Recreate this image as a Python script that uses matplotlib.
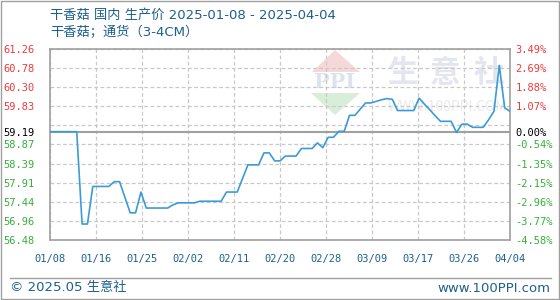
import matplotlib
matplotlib.use("Agg")
import matplotlib.pyplot as plt
import matplotlib.dates as mdates
from matplotlib.patches import Polygon, Rectangle
import numpy as np
import pandas as pd

plt.rcParams["font.family"] = ["Noto Sans CJK SC", "DejaVu Sans"]

# data
dates = ["2025-01-08", "2025-01-13", "2025-01-14", "2025-01-15", "2025-01-16",
         "2025-01-19", "2025-01-20", "2025-01-21", "2025-01-23", "2025-01-24",
         "2025-01-25", "2025-01-26", "2025-01-30", "2025-01-31", "2025-02-01",
         "2025-02-04", "2025-02-05", "2025-02-09", "2025-02-10", "2025-02-12",
         "2025-02-14", "2025-02-16", "2025-02-17", "2025-02-18", "2025-02-19",
         "2025-02-20", "2025-02-21", "2025-02-23", "2025-02-24", "2025-02-26",
         "2025-02-27", "2025-02-28", "2025-03-01", "2025-03-02", "2025-03-03",
         "2025-03-04", "2025-03-05", "2025-03-06", "2025-03-08", "2025-03-09",
         "2025-03-11", "2025-03-12", "2025-03-13", "2025-03-14", "2025-03-17",
         "2025-03-18", "2025-03-19", "2025-03-20", "2025-03-21", "2025-03-22",
         "2025-03-24", "2025-03-25", "2025-03-26", "2025-03-27", "2025-03-28",
         "2025-03-30", "2025-03-31", "2025-04-01", "2025-04-02", "2025-04-03",
         "2025-04-04"]
prices = [59.19, 59.19, 56.88, 56.88, 57.82,
          57.82, 57.94, 57.94, 57.16, 57.16,
          57.68, 57.28, 57.28, 57.36, 57.41,
          57.41, 57.45, 57.45, 57.68, 57.68,
          58.36, 58.36, 58.66, 58.66, 58.46,
          58.46, 58.58, 58.58, 58.77, 58.77,
          58.91, 58.79, 59.05, 59.05, 59.20,
          59.20, 59.60, 59.60, 59.91, 59.91,
          59.99, 60.02, 60.00, 59.72, 59.72,
          60.03, 59.88, 59.74, 59.59, 59.45,
          59.45, 59.17, 59.38, 59.38, 59.30,
          59.30, 59.49, 59.70, 60.85, 59.79,
          59.70]

base_price = 59.19
y_min, y_max = 56.48, 61.26
left_labels = ["56.48", "56.96", "57.44", "57.91", "58.39", "58.87", "",
               "59.83", "60.30", "60.78", "61.26"]
right_labels = ["-4.58%", "-3.77%", "-2.96%", "-2.15%", "-1.35%", "-0.54%", "",
                "1.07%", "1.88%", "2.69%", "3.49%"]
x_labels = ["01/08", "01/16", "01/25", "02/02", "02/11", "02/20", "02/28",
            "03/09", "03/17", "03/26", "04/04"]

title = "干香菇 国内 生产价 2025-01-08 - 2025-04-04"
subtitle = "干香菇；通货（3-4CM）"

blue_text = "#1d5f8e"
red = "#f03a3a"
green = "#36b03a"
W, H = 560, 300
latin_first = ["DejaVu Sans", "Noto Sans CJK SC"]


def fx(px):
    return px / W


def fy(py):
    return 1 - py / H


fig = plt.figure(figsize=(5.6, 3.0), dpi=100)
ax = fig.add_axes([fx(50), fy(240), (510 - 50) / W, (240 - 49) / H])

t = mdates.date2num(pd.to_datetime(dates))
ax.plot(t, prices, color="#3b9bd8", lw=1.2, zorder=5)

x0, x1 = t[0], t[-1]
ax.set_xlim(x0, x1)
ax.set_ylim(y_min, y_max)

yt = np.linspace(y_min, y_max, len(left_labels))
ax.set_yticks(yt)
ax.set_yticklabels(left_labels)
ax.set_yticks([base_price], minor=True)
ax.set_yticklabels(["59.19"], minor=True)
xt = np.linspace(x0, x1, len(x_labels))
ax.set_xticks(xt)
ax.set_xticklabels(x_labels)

ax.grid(True, which="major", color="#c8c8c8", ls=(0, (3, 2)), lw=0.9)
ax.axhline(base_price, color="#a0a0a0", lw=1.5, zorder=3)

for s in ax.spines.values():
    s.set_color("#a0a0a0")
    s.set_linewidth(1.2)

mono = "DejaVu Sans Mono"
ax.tick_params(axis="both", which="both", length=0)
ax.tick_params(axis="y", which="both", pad=11, labelsize=7.5)
ax.tick_params(axis="x", pad=10, labelsize=7.5, labelcolor=blue_text)
for lab in ax.get_xticklabels():
    lab.set_family(mono)
for v, lab in zip(yt, ax.get_yticklabels()):
    lab.set_family(mono)
    lab.set_color(red if v > base_price else green)
for lab in ax.get_yticklabels(minor=True):
    lab.set_family(mono)
    lab.set_color("black")

ax2 = ax.twinx()
ax2.set_ylim(y_min, y_max)
ax2.set_yticks(yt)
ax2.set_yticklabels(right_labels)
ax2.set_yticks([base_price], minor=True)
ax2.set_yticklabels(["0.00%"], minor=True)
ax2.tick_params(axis="y", which="both", length=0, pad=4, labelsize=7.5)
for v, lab in zip(yt, ax2.get_yticklabels()):
    lab.set_family(mono)
    lab.set_color(red if v > base_price else green)
for lab in ax2.get_yticklabels(minor=True):
    lab.set_family(mono)
    lab.set_color("black")
for s in ax2.spines.values():
    s.set_visible(False)

# watermark
tf = fig.transFigure
ax.add_patch(Polygon([(fx(335), fy(50)), (fx(312), fy(72)), (fx(360), fy(72))],
                     closed=True, transform=tf, color="#f6d8d8", lw=0, zorder=1))
ax.add_patch(Polygon([(fx(311), fy(93)), (fx(360), fy(93)), (fx(335), fy(115))],
                     closed=True, transform=tf, color="#d8eed8", lw=0, zorder=1))
ax.text(fx(335), fy(82), "PPI", transform=tf, ha="center", va="center",
        fontsize=15, fontweight="bold", color="#dde3ee", family="DejaVu Serif", zorder=1)
for ch, cx in zip("生意社", [402, 445, 489]):
    ax.text(fx(cx), fy(73), ch, transform=tf, ha="center", va="center",
            fontsize=22, fontweight="bold", color="#e3e6ee", zorder=1)
ax.text(fx(447), fy(107), "WWW.100PPI.COM", transform=tf, ha="center", va="center",
        fontsize=10, color="#eaeaea", zorder=1)

# titles and footer
fig.text(fx(50), fy(15), title, fontsize=9.5, color=blue_text, va="center",
         family=latin_first)
fig.text(fx(50), fy(33), subtitle, fontsize=9.5, color=blue_text, va="center",
         family=latin_first)
fig.text(fx(10), fy(288), "© 2025.05 生意社", fontsize=9.5, color=blue_text,
         va="center", family=latin_first)
fig.text(fx(550), fy(288), "www.100PPI.com", fontsize=9.5, color=blue_text,
         va="center", ha="right", family=latin_first)
fig.add_artist(plt.Line2D([fx(10), fx(551)], [fy(277.5), fy(277.5)],
                          color="#a0a0a0", lw=1, transform=tf))
fig.add_artist(Rectangle((0.001, 0.002), 0.997, 0.996, transform=tf,
                         fill=False, edgecolor="#a0a0a0", lw=1))

fig.savefig("out.png", dpi=100)
